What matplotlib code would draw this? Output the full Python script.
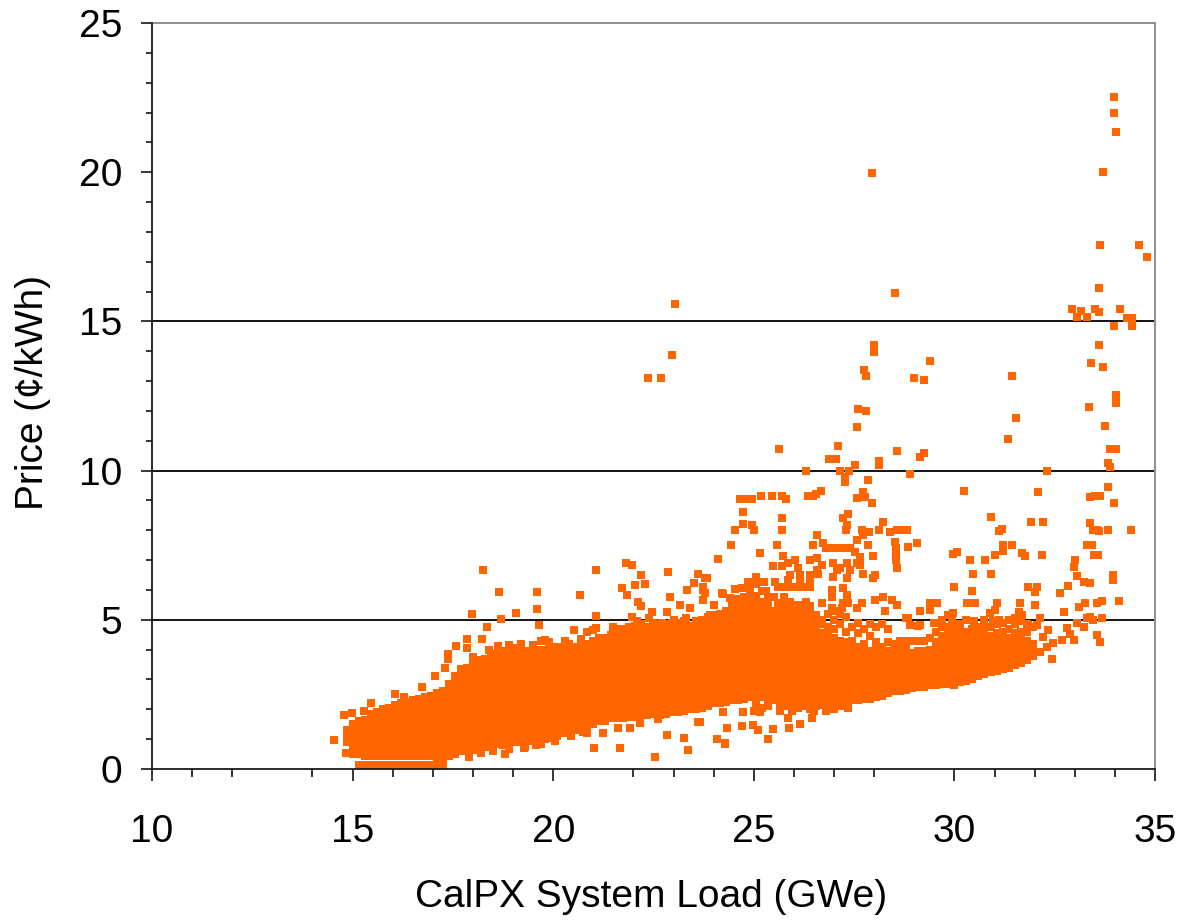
import matplotlib
matplotlib.use("Agg")
import matplotlib.pyplot as plt
from matplotlib.ticker import FixedLocator

# ---- values: (load GWe, [prices c/kWh]) ----
band_15 = [
 (14.85,[.9,1.1,1.3]),
 (15.0,[.5,.7,.9,1.1,1.3,1.5]),
 (15.15,[.15,.5,.7,.9,1.1,1.3,1.5,1.6]),
 (15.3,[.12,.45,.65,.85,1.05,1.25,1.45,1.65]),
 (15.45,[.12,.45,.65,.85,1.05,1.25,1.45,1.65,1.85]),
 (15.6,[.12,.45,.65,.85,1.05,1.25,1.45,1.65,1.9]),
 (15.75,[.12,.45,.65,.85,1.05,1.25,1.45,1.65,1.85,2.0]),
 (15.9,[.12,.45,.65,.85,1.05,1.25,1.45,1.65,1.85,2.05]),
 (16.05,[.12,.45,.65,.85,1.05,1.25,1.45,1.65,1.85,2.05,2.15]),
 (16.2,[.12,.45,.65,.85,1.05,1.25,1.45,1.65,1.85,2.05,2.2]),
 (16.35,[.12,.45,.65,.85,1.05,1.25,1.45,1.65,1.85,2.05,2.25]),
 (16.5,[.12,.45,.65,.85,1.05,1.25,1.45,1.65,1.85,2.05,2.3]),
 (16.65,[.12,.45,.65,.85,1.05,1.25,1.45,1.65,1.85,2.05,2.25,2.35]),
 (16.8,[.12,.45,.65,.85,1.05,1.25,1.45,1.65,1.85,2.05,2.25,2.4]),
 (16.95,[.12,.45,.65,.85,1.05,1.25,1.45,1.65,1.85,2.05,2.25,2.45]),
 (17.1,[.12,.4,.6,.8,1.0,1.2,1.4,1.6,1.8,2.0,2.2,2.4,2.55]),
 (17.25,[.12,.4,.6,.8,1.0,1.2,1.4,1.6,1.8,2.0,2.2,2.4,2.6]),
 (17.4,[.45,.65,.85,1.05,1.25,1.45,1.65,1.85,2.05,2.25,2.45,2.65,2.85]),
 (17.55,[.5,.7,.9,1.1,1.3,1.5,1.7,1.9,2.1,2.3,2.5,2.7,2.9,3.1]),
 (17.7,[.6,.8,1.0,1.2,1.4,1.6,1.8,2.0,2.2,2.4,2.6,2.8,3.0,3.2]),
 (17.85,[.6,.8,1.0,1.2,1.4,1.6,1.8,2.0,2.2,2.4,2.6,2.8,3.0,3.2,3.4]),
]
band_18 = [
 (18.0,[.65,.85,1.05,1.25,1.45,1.65,1.85,2.05,2.25,2.45,2.65,2.85,3.05,3.25,3.45,3.55]),
 (18.15,[.7,.9,1.1,1.3,1.5,1.7,1.9,2.1,2.3,2.5,2.7,2.9,3.1,3.3,3.5,3.65]),
 (18.3,[.75,.95,1.15,1.35,1.55,1.75,1.95,2.15,2.35,2.55,2.75,2.95,3.15,3.35,3.55,3.7]),
 (18.45,[.8,1.0,1.2,1.4,1.6,1.8,2.0,2.2,2.4,2.6,2.8,3.0,3.2,3.4,3.6,3.8]),
 (18.6,[.85,1.05,1.25,1.45,1.65,1.85,2.05,2.25,2.45,2.65,2.85,3.05,3.25,3.45,3.65,3.85]),
 (18.75,[.8,1.0,1.2,1.4,1.6,1.8,2.0,2.2,2.4,2.6,2.8,3.0,3.2,3.4,3.6,3.8,3.95]),
 (18.9,[.9,1.1,1.3,1.5,1.7,1.9,2.1,2.3,2.5,2.7,2.9,3.1,3.3,3.5,3.7,3.9,4.0]),
 (19.05,[.9,1.1,1.3,1.5,1.7,1.9,2.1,2.3,2.5,2.7,2.9,3.1,3.3,3.5,3.7,3.9,4.05]),
 (19.2,[.9,1.1,1.3,1.5,1.7,1.9,2.1,2.3,2.5,2.7,2.9,3.1,3.3,3.5,3.7,3.9,4.1]),
 (19.35,[.95,1.15,1.35,1.55,1.75,1.95,2.15,2.35,2.55,2.75,2.95,3.15,3.35,3.55,3.75,3.95]),
 (19.5,[.95,1.15,1.35,1.55,1.75,1.95,2.15,2.35,2.55,2.75,2.95,3.15,3.35,3.55,3.75,3.95]),
 (19.65,[1.0,1.2,1.4,1.6,1.8,2.0,2.2,2.4,2.6,2.8,3.0,3.2,3.4,3.6,3.8,4.0]),
 (19.8,[1.0,1.2,1.4,1.6,1.8,2.0,2.2,2.4,2.6,2.8,3.0,3.2,3.4,3.6,3.8,4.0]),
 (19.95,[1.05,1.25,1.45,1.65,1.85,2.05,2.25,2.45,2.65,2.85,3.05,3.25,3.45,3.65,3.85,4.05]),
 (20.1,[1.1,1.3,1.5,1.7,1.9,2.1,2.3,2.5,2.7,2.9,3.1,3.3,3.5,3.7,3.9,4.1]),
 (20.25,[1.2,1.4,1.6,1.8,2.0,2.2,2.4,2.6,2.8,3.0,3.2,3.4,3.6,3.8,4.0,4.1]),
 (20.4,[1.2,1.4,1.6,1.8,2.0,2.2,2.4,2.6,2.8,3.0,3.2,3.4,3.6,3.8,4.0,4.2]),
 (20.55,[1.3,1.5,1.7,1.9,2.1,2.3,2.5,2.7,2.9,3.1,3.3,3.5,3.7,3.9,4.1]),
 (20.7,[1.4,1.6,1.8,2.0,2.2,2.4,2.6,2.8,3.0,3.2,3.4,3.6,3.8,4.0,4.2]),
 (20.85,[1.4,1.6,1.8,2.0,2.2,2.4,2.6,2.8,3.0,3.2,3.4,3.6,3.8,4.0,4.2]),
 (21.0,[1.5,1.7,1.9,2.1,2.3,2.5,2.7,2.9,3.1,3.3,3.5,3.7,3.9,4.1,4.3]),
]
band_21 = [
 (21.15,[1.6,1.8,2.0,2.2,2.4,2.6,2.8,3.0,3.2,3.4,3.6,3.8,4.0,4.2,4.4]),
 (21.3,[1.6,1.8,2.0,2.2,2.4,2.6,2.8,3.0,3.2,3.4,3.6,3.8,4.0,4.2,4.4]),
 (21.45,[1.7,1.9,2.1,2.3,2.5,2.7,2.9,3.1,3.3,3.5,3.7,3.9,4.1,4.3,4.5]),
 (21.6,[1.7,1.9,2.1,2.3,2.5,2.7,2.9,3.1,3.3,3.5,3.7,3.9,4.1,4.3,4.5]),
 (21.75,[1.7,1.9,2.1,2.3,2.5,2.7,2.9,3.1,3.3,3.5,3.7,3.9,4.1,4.3,4.5,4.7]),
 (21.9,[1.75,1.95,2.15,2.35,2.55,2.75,2.95,3.15,3.35,3.55,3.75,3.95,4.15,4.35,4.55,4.75]),
 (22.05,[1.75,1.95,2.15,2.35,2.55,2.75,2.95,3.15,3.35,3.55,3.75,3.95,4.15,4.35,4.55,4.8]),
 (22.2,[1.8,2.0,2.2,2.4,2.6,2.8,3.0,3.2,3.4,3.6,3.8,4.0,4.2,4.4,4.6,4.85]),
 (22.35,[1.8,2.0,2.2,2.4,2.6,2.8,3.0,3.2,3.4,3.6,3.8,4.0,4.2,4.4,4.6,4.75]),
 (22.5,[1.85,2.05,2.25,2.45,2.65,2.85,3.05,3.25,3.45,3.65,3.85,4.05,4.25,4.45,4.65,4.9]),
 (22.65,[1.8,2.0,2.2,2.4,2.6,2.8,3.0,3.2,3.4,3.6,3.8,4.0,4.2,4.4,4.6,4.85]),
 (22.8,[1.85,2.05,2.25,2.45,2.65,2.85,3.05,3.25,3.45,3.65,3.85,4.05,4.25,4.45,4.65,4.85]),
 (22.95,[1.9,2.1,2.3,2.5,2.7,2.9,3.1,3.3,3.5,3.7,3.9,4.1,4.3,4.5,4.7,4.9]),
 (23.1,[1.9,2.1,2.3,2.5,2.7,2.9,3.1,3.3,3.5,3.7,3.9,4.1,4.3,4.5,4.7,4.9]),
 (23.25,[1.95,2.15,2.35,2.55,2.75,2.95,3.15,3.35,3.55,3.75,3.95,4.15,4.35,4.55,4.75,4.95]),
 (23.4,[2.0,2.2,2.4,2.6,2.8,3.0,3.2,3.4,3.6,3.8,4.0,4.2,4.4,4.6,4.8]),
 (23.55,[2.0,2.2,2.4,2.6,2.8,3.0,3.2,3.4,3.6,3.8,4.0,4.2,4.4,4.6,4.8,4.95]),
 (23.7,[2.05,2.25,2.45,2.65,2.85,3.05,3.25,3.45,3.65,3.85,4.05,4.25,4.45,4.65,4.85,5.0]),
 (23.85,[2.1,2.3,2.5,2.7,2.9,3.1,3.3,3.5,3.7,3.9,4.1,4.3,4.5,4.7,4.9,5.1]),
 (24.0,[2.2,2.4,2.6,2.8,3.0,3.2,3.4,3.6,3.8,4.0,4.2,4.4,4.6,4.8,5.0,5.15]),
 (24.15,[2.2,2.4,2.6,2.8,3.0,3.2,3.4,3.6,3.8,4.0,4.2,4.4,4.6,4.8,5.0,5.2]),
 (24.3,[2.25,2.45,2.65,2.85,3.05,3.25,3.45,3.65,3.85,4.05,4.25,4.45,4.65,4.85,5.05,5.3]),
 (24.45,[2.3,2.5,2.7,2.9,3.1,3.3,3.5,3.7,3.9,4.1,4.3,4.5,4.7,4.9,5.1,5.3,5.5]),
 (24.6,[2.3,2.5,2.7,2.9,3.1,3.3,3.5,3.7,3.9,4.1,4.3,4.5,4.7,4.9,5.1,5.3,5.5,5.7]),
 (24.75,[2.35,2.55,2.75,2.95,3.15,3.35,3.55,3.75,3.95,4.15,4.35,4.55,4.75,4.95,5.15,5.35,5.55,5.75]),
 (24.9,[2.4,2.6,2.8,3.0,3.2,3.4,3.6,3.8,4.0,4.2,4.4,4.6,4.8,5.0,5.2,5.4,5.6,5.85,6.05]),
]
band_25 = [
 (25.05,[2.2,2.4,2.6,2.8,3.0,3.2,3.4,3.6,3.8,4.0,4.2,4.4,4.6,4.8,5.0,5.2,5.4,5.6,5.8,6.2]),
 (25.2,[2.4,2.6,2.8,3.0,3.2,3.4,3.6,3.8,4.0,4.2,4.4,4.6,4.8,5.0,5.2,5.4,5.6,5.95]),
 (25.35,[2.1,2.3,2.5,2.7,2.9,3.1,3.3,3.5,3.7,3.9,4.1,4.3,4.5,4.7,4.9,5.1,5.3,5.5,5.7]),
 (25.5,[2.3,2.5,2.7,2.9,3.1,3.3,3.5,3.7,3.9,4.1,4.3,4.5,4.7,4.9,5.1,5.3]),
 (25.65,[1.95,2.15,2.35,2.55,2.75,2.95,3.15,3.35,3.55,3.75,3.95,4.15,4.35,4.55,4.75,4.95,5.15,5.4]),
 (25.8,[2.1,2.3,2.5,2.7,2.9,3.1,3.3,3.5,3.7,3.9,4.1,4.3,4.5,4.7,4.9,5.1,5.3,5.5]),
 (25.95,[1.95,2.15,2.35,2.55,2.75,2.95,3.15,3.35,3.55,3.75,3.95,4.15,4.35,4.55,4.75,4.95,5.2,5.45]),
 (26.1,[2.05,2.25,2.45,2.65,2.85,3.05,3.25,3.45,3.65,3.85,4.05,4.25,4.45,4.65,4.85,5.05,5.25,5.5]),
 (26.25,[2.1,2.3,2.5,2.7,2.9,3.1,3.3,3.5,3.7,3.9,4.1,4.3,4.5,4.7,4.9,5.1,5.35]),
 (26.4,[2.0,2.2,2.4,2.6,2.8,3.0,3.2,3.4,3.6,3.8,4.0,4.2,4.4,4.6,4.8,5.0,5.2,5.45]),
 (26.55,[2.1,2.3,2.5,2.7,2.9,3.1,3.3,3.5,3.7,3.9,4.1,4.3,4.5,4.7,4.95,5.15]),
 (26.7,[2.15,2.35,2.55,2.75,2.95,3.15,3.35,3.55,3.75,3.95,4.15,4.35,4.55,4.85,5.0]),
 (26.85,[2.1,2.3,2.5,2.7,2.9,3.1,3.3,3.5,3.7,3.9,4.1,4.3,4.5,4.75,5.2]),
 (27.0,[2.2,2.4,2.6,2.8,3.0,3.2,3.4,3.6,3.8,4.0,4.2,4.4,4.7,5.0,5.3]),
 (27.15,[2.1,2.3,2.5,2.7,2.9,3.1,3.3,3.5,3.7,3.9,4.1,4.3,4.85,5.2]),
 (27.3,[2.25,2.45,2.65,2.85,3.05,3.25,3.45,3.65,3.85,4.05,4.25,4.6,5.1]),
 (27.45,[2.3,2.5,2.7,2.9,3.1,3.3,3.5,3.7,3.9,4.1,4.3,4.75]),
 (27.6,[2.3,2.5,2.7,2.9,3.1,3.3,3.5,3.7,3.9,4.1,4.55,4.9]),
 (27.75,[2.35,2.55,2.75,2.95,3.15,3.35,3.55,3.75,3.95,4.2,4.7]),
 (27.9,[2.35,2.55,2.75,2.95,3.15,3.35,3.55,3.75,3.95,4.45,4.85]),
 (28.05,[2.4,2.6,2.8,3.0,3.2,3.4,3.6,3.8,4.0,4.25,4.75]),
]
band_28 = [
 (28.2,[2.45,2.65,2.85,3.05,3.25,3.45,3.65,3.85,4.1,4.85]),
 (28.35,[2.55,2.75,2.95,3.15,3.35,3.55,3.75,3.95,4.25,4.7]),
 (28.5,[2.6,2.8,3.0,3.2,3.4,3.6,3.8,4.0,4.2]),
 (28.65,[2.6,2.8,3.0,3.2,3.4,3.6,3.8,4.05,4.3]),
 (28.8,[2.65,2.85,3.05,3.25,3.45,3.65,3.85,4.1,4.3,5.05]),
 (28.95,[2.7,2.9,3.1,3.3,3.5,3.7,3.9,4.3]),
 (29.1,[2.75,2.95,3.15,3.35,3.55,3.75,3.95,4.3,4.8]),
 (29.25,[2.75,2.95,3.15,3.35,3.55,3.75,3.95,4.3]),
 (29.4,[2.8,3.0,3.2,3.4,3.6,3.8,4.0,4.4]),
 (29.55,[2.8,3.0,3.2,3.4,3.6,3.8,4.0,4.25,4.6]),
 (29.7,[2.85,3.05,3.25,3.45,3.65,3.85,4.05,4.25,4.45,4.75]),
 (29.85,[2.85,3.05,3.25,3.45,3.65,3.85,4.05,4.3,4.5,4.75]),
 (30.0,[2.8,3.0,3.2,3.4,3.6,3.8,4.0,4.2,4.45,4.7]),
 (30.15,[2.9,3.1,3.3,3.5,3.7,3.9,4.1,4.3,4.55,4.8]),
 (30.3,[2.95,3.15,3.35,3.55,3.75,3.95,4.15,4.35,4.6]),
 (30.45,[3.0,3.2,3.4,3.6,3.8,4.0,4.2,4.45,4.7]),
 (30.6,[3.1,3.3,3.5,3.7,3.9,4.1,4.3,4.5,4.75]),
 (30.75,[3.2,3.4,3.6,3.8,4.0,4.2,4.4,4.65,4.85]),
 (30.9,[3.25,3.45,3.65,3.85,4.05,4.25,4.45,4.75]),
 (31.05,[3.3,3.5,3.7,3.9,4.1,4.3,4.55,4.85]),
 (31.2,[3.35,3.55,3.75,3.95,4.15,4.35,4.6,4.9]),
 (31.35,[3.4,3.6,3.8,4.0,4.2,4.4,4.7]),
 (31.5,[3.5,3.7,3.9,4.1,4.3,4.55,4.85]),
 (31.65,[3.55,3.75,3.95,4.15,4.35,4.6,4.95]),
 (31.8,[3.65,3.85,4.05,4.3,4.6,4.85]),
 (31.95,[3.8,4.0,4.2,4.75]),
]

spikes = [(33.98,22.51),(33.98,21.98),(34.02,21.34),(33.71,20.02),(27.94,19.96),
 (33.64,17.55),(34.6,17.55),(34.79,17.17),(28.52,15.94),(33.6,16.13),(23.04,15.58),
 (32.93,15.43),(33.16,15.36),(33.5,15.43),(33.6,15.3),(34.12,15.43),(33.06,15.16),
 (33.3,15.16),(33.98,14.84),(34.31,15.1),(34.42,15.1),(34.42,14.84),(22.95,13.88),
 (22.37,13.11),(22.69,13.11),(27.99,14.2),(27.99,13.98),(29.38,13.68),(27.74,13.37),
 (27.79,13.17),(29.0,13.1),(29.23,13.03),(31.44,13.17),(33.6,14.21),(33.4,13.62),
 (33.71,13.46),(34.02,12.53),(34.02,12.25),(33.35,12.13),(27.6,12.06),(27.79,12.0),
 (31.54,11.75),(27.56,11.46),(33.76,11.48),(31.34,11.05),(27.11,10.84),(25.64,10.72),
 (28.56,10.65),(33.88,10.72),(34.04,10.72),(29.23,10.58),(29.14,10.45),(26.88,10.4),
 (27.04,10.4),(28.13,10.33),(28.13,10.2),(27.51,10.2),(33.83,10.27),(33.88,10.13),
 (26.3,10.0),(27.16,10.0),(27.37,10.0),(32.3,10.0),(27.27,9.8),(27.27,9.63),(28.9,9.87),
 (27.84,9.68),(30.24,9.3),(32.09,9.27),(33.83,9.44),(33.5,9.16),(33.63,9.16),(33.39,9.12),
 (26.67,9.3),(26.56,9.2),(24.65,9.04),(24.75,9.04),(24.85,9.04),(24.95,9.04),(25.18,9.15),
 (25.45,9.15),(25.7,9.15),(25.8,9.04),(26.36,9.15),(26.47,9.15),(27.73,9.29),(27.57,9.07),
 (27.77,9.13),(27.94,8.93),(33.97,8.93)]

upper_scatter = [(24.72,8.6),(25.71,8.4),(27.23,8.4),(27.34,8.53),(27.32,8.18),(27.29,8.0),
 (24.72,8.21),(24.53,8.01),(24.95,8.18),(25.01,8.01),(25.71,8.0),(26.58,7.84),(27.69,8.01),
 (27.86,7.95),(27.73,7.84),(27.57,7.67),(28.21,8.29),(28.13,8.01),(28.4,7.95),(28.56,8.01),
 (28.72,8.01),(28.81,8.01),(28.52,7.62),(29.06,7.56),(28.85,7.43),(28.54,7.39),(28.54,7.17),
 (28.54,7.0),(28.56,6.72),(27.84,7.5),(26.48,7.5),(25.59,7.5),(24.43,7.5),(25.16,7.25),
 (24.12,7.03),(25.74,7.14),(26.73,7.56),(26.8,7.4),(26.95,7.4),(27.1,7.4),(27.25,7.4),
 (27.4,7.4),(27.52,7.28),(27.65,7.1),(27.57,6.9),(27.65,6.85),(27.4,6.67),(26.98,6.89),
 (27.07,6.67),(26.98,6.45),(27.32,6.39),(27.32,6.89),(27.15,6.72),(26.57,7.06),(26.4,7.0),
 (26.69,6.84),(26.03,7.0),(25.86,6.89),(25.7,6.8),(25.49,6.8),(26.11,6.72),(26.57,6.67),
 (25.9,6.5),(26.15,6.5),(26.4,6.5),(26.6,6.55),(26.15,6.22),(26.4,6.22),(25.86,6.33),
 (25.06,6.45),(24.86,6.28),(25.53,6.28),(25.25,6.28),(24.53,6.02),(24.7,6.05),(23.78,6.39),
 (23.74,6.1),(23.78,5.9),(24.2,5.9),(27.98,7.14),(27.73,6.53),(28.02,6.5),(27.96,6.39),
 (26.94,6.0),(26.94,5.78),(27.23,6.05),(27.32,5.83),(27.23,5.55),(27.35,5.55),(27.69,5.55),
 (27.57,5.38),(28.02,5.66),(28.23,5.77),(28.44,5.66),(28.56,5.5),(28.27,5.3),(29.39,5.55),
 (29.56,5.57),(29.14,5.3),(29.39,5.32),(30.0,6.09),(30.43,5.96),(30.47,6.52),(30.9,6.52),
 (30.39,7.0),(30.76,7.0),(31.0,7.17),(30.06,7.28),(29.97,7.22),(30.9,8.46),(31.18,8.03),
 (31.12,7.98),(31.91,8.27),(32.22,8.27),(31.22,7.5),(31.43,7.5),(31.22,7.3),(31.68,7.23),
 (31.76,7.14),(32.18,7.17),(33.0,7.0),(32.97,6.78),(33.05,6.47),(33.22,6.28),(33.38,6.22),
 (33.95,6.5),(33.95,6.33),(32.84,6.14),(32.62,5.89),(31.84,6.09),(32.05,6.09),(32.01,5.94),
 (34.11,5.63),(33.55,5.57),(33.67,5.64),(33.11,5.44),(33.26,5.55),(32.01,5.5),(32.72,5.25),
 (31.64,5.55),(31.6,5.27),(31.68,5.16),(31.05,5.55),(31.0,5.33),(30.88,5.24),(30.31,5.55),
 (30.51,5.57),(29.97,5.24),(29.85,5.16),(28.85,5.05),(28.9,4.82),(29.14,4.82),(33.38,5.1),
 (33.67,5.05),(33.3,5.05),(33.45,5.0),(32.13,5.05),(32.05,4.82),(31.84,4.82),(33.05,4.88),
 (33.22,4.77),(32.8,4.71),(32.88,4.54),(32.97,4.32),(33.55,4.49),(33.63,4.27),(32.34,4.66),
 (32.22,4.43),(32.47,4.21),(32.67,4.32),(32.13,3.93),(32.3,4.1),(32.43,3.69),(34.4,8.0),
 (33.84,8.01),(33.55,8.01),(33.38,8.23),(33.42,7.5),(33.3,7.5),(33.59,7.17),(33.47,7.17),
 (33.6,7.98),(33.45,8.0),
 (18.26,6.66),(18.65,5.94),(19.6,5.94),(20.66,5.83),(21.06,6.66),(21.81,6.9),(21.96,6.84),
 (22.86,6.6),(22.2,6.5),(22.04,6.16),(22.29,6.2),(21.71,6.07),(21.83,5.83),(23.62,6.55),
 (23.83,6.39),(23.5,6.24),(23.33,6.0),(23.74,6.0),(23.74,5.68),(22.9,5.77),(23.16,5.49),
 (23.41,5.38),(22.12,5.6),(22.2,5.47),(24.0,5.49),(24.23,5.88),(24.53,6.02),(24.41,5.72),
 (17.97,5.18),(18.69,5.04),(19.08,5.23),(19.6,5.36),(18.36,4.77),(19.65,4.82),(21.06,5.12),
 (21.06,4.73),(20.52,4.65),(22.46,5.27),(22.83,5.27),(21.96,5.1),(19.8,4.32),(18.22,4.34),
 (17.84,4.37),(17.84,4.07),(17.58,4.12),(17.39,3.87),(18.63,4.12),(17.39,3.7),(17.3,3.37),
 (17.06,3.11),(16.72,2.75),(16.06,2.53),(16.27,2.42),(15.46,2.2),(15.29,1.95),(14.98,1.86),
 (14.79,1.8)]

lower_scatter = [(14.54,.97),(14.84,.54),(18.8,.5),(19.26,.69),(19.57,.8),(21.02,.69),(21.67,.69),
 (22.54,.41),(23.37,.63),(22.83,1.13),(23.25,1.04),(24.09,.99),(24.28,.85),(23.62,1.56),
 (24.34,1.36),(21.25,1.19),(20.85,1.19),(21.61,1.38),(21.92,1.36),(22.17,1.53),(22.62,1.69),
 (17.89,.41),(24.08,1.0),(24.28,.86),(24.32,1.38),(24.7,1.44),(24.99,1.47),(25.11,1.3),
 (25.49,1.33),(25.35,.99),(25.88,1.38),(26.15,1.5),(26.44,1.72),(24.72,1.9),(24.24,1.92),
 (24.12,2.2),(25.16,1.9),(25.86,1.7),(23.66,1.58)]

edge_bumps = [(17.7,3.35),(18.0,3.75),(18.4,4.0),(18.9,4.15),(19.2,4.2),(19.5,4.15),(19.7,4.3),
 (19.9,4.25),(20.3,4.3),(20.7,4.35),(20.85,4.6),(21.0,4.65),(21.5,4.75),(21.7,4.7),(22.1,4.95),
 (22.4,5.05),(22.7,4.9),(23.0,5.0),(23.3,5.05),(23.6,4.95),(23.9,5.15),
 (18.2,.55),(18.5,.6),(18.9,.68),(19.3,.75),(19.7,.85),(20.05,.95),(20.45,1.1),(20.75,1.25),
 (25.3,5.95),(25.5,5.75),(25.6,5.55),(25.75,5.75),(25.6,6.1),(25.8,6.1),(26.0,6.1),(26.2,6.1),
 (26.4,6.1),(26.7,5.55),(26.3,5.6),(25.9,5.6),(26.94,5.4),(27.2,5.4),(27.3,5.1),
 (25.0,1.95),(25.2,2.05),(26.5,1.95),(26.8,1.95),(27.0,2.0),(27.35,2.05),
 (29.5,4.9),(29.7,5.0),(29.95,4.95),(30.1,4.85),(30.3,5.0),(30.5,4.95),(30.75,5.0),(30.95,4.95),
 (31.1,5.0),(31.35,5.0),(31.5,5.05)]

grid_levels = [5, 10, 15]
x_major = [10, 15, 20, 25, 30, 35]
x_minor = [11, 12, 14, 16, 17, 18, 19, 22, 23, 24, 26, 27, 28, 31, 32, 33, 34]
y_major = [0, 5, 10, 15, 20, 25]
y_minor = [1, 2, 3, 4, 6, 7, 8, 9, 11, 12, 13, 14, 16, 17, 18, 19, 21, 22, 23, 24]

plt.rcParams['font.family'] = ['Liberation Sans', 'DejaVu Sans']
ORANGE = '#FF6600'
W, H = 1181, 921
fig = plt.figure(figsize=(W/100, H/100), dpi=100, facecolor='white')
ax = fig.add_axes([152/W, (H-769)/H, (1155-152)/W, (769-23)/H])

xs, ys = [], []
for section in (band_15, band_18, band_21, band_25, band_28):
    for x, column in section:
        for y in column:
            xs.append(x); ys.append(y)
for group in (spikes, upper_scatter, lower_scatter, edge_bumps):
    for x, y in group:
        xs.append(x); ys.append(y)

for level in grid_levels:
    ax.axhline(level, color='black', lw=1.3, zorder=1)
ax.scatter(xs, ys, s=28, marker='s', color=ORANGE, linewidths=0, zorder=2)

ax.set_xlim(10, 35)
ax.set_ylim(0, 25)
ax.xaxis.set_major_locator(FixedLocator(x_major))
ax.xaxis.set_minor_locator(FixedLocator(x_minor))
ax.yaxis.set_major_locator(FixedLocator(y_major))
ax.yaxis.set_minor_locator(FixedLocator(y_minor))
ax.tick_params(axis='x', which='major', length=8.6, width=1.1, labelsize=28, pad=24)
ax.tick_params(axis='x', which='minor', length=5.6, width=1.1)
ax.tick_params(axis='y', which='major', length=7.6, width=1.1, labelsize=28, pad=14)
ax.tick_params(axis='y', which='minor', length=4.6, width=1.1)
for t in ax.yaxis.get_major_ticks():
    if t.get_loc() == 20:
        t.tick1line.set_visible(False)

for s in ('top', 'right'):
    ax.spines[s].set_color('#8f8f8f')
    ax.spines[s].set_linewidth(1.4)
for s in ('left', 'bottom'):
    ax.spines[s].set_color('#1a1a1a')
    ax.spines[s].set_linewidth(1.3)
    ax.spines[s].set_zorder(3)

fig.text(651/W, 1-897/H, 'CalPX System Load (GWe)', fontsize=28, ha='center', va='center')
fig.text(33/W, 1-393/H, 'Price (¢/kWh)', fontsize=28, rotation=90, ha='center', va='center')

fig.savefig('out.png', dpi=100, facecolor='white')
